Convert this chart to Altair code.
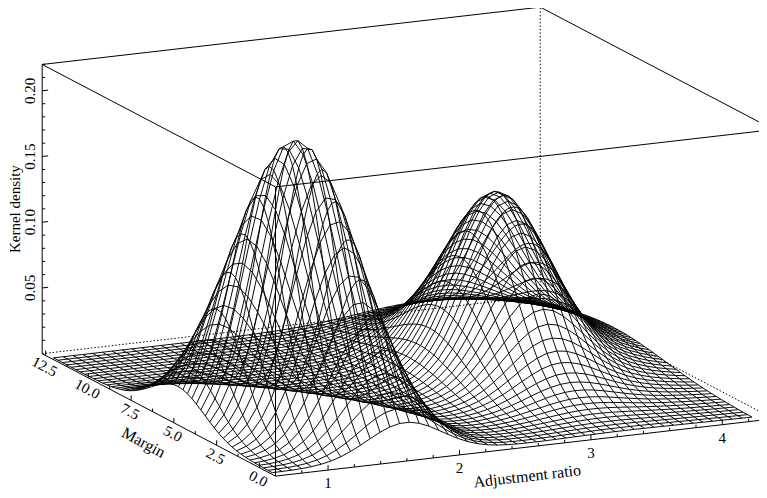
import math

import numpy as np
import pandas as pd
import altair as alt

# bumps of the kernel density surface
BUMP_ADJ = [1.29, 3.20, 3.50]
BUMP_MARGIN = [3.1, 6.0, 7.5]
BUMP_ADJ_SD = [0.33, 0.30, 0.55]
BUMP_MARGIN_SD = [1.8, 2.0, 3.0]
BUMP_RHO = [-0.5, 0.0, 0.0]
BUMP_HEIGHT = [0.22, 0.11, 0.035]

# evaluation grid of the estimate
ADJ_RANGE = [0.62, 4.27]
MARGIN_RANGE = [-0.6, 12.2]
N_GRID = 50

# the 3d box
BOX_ADJ = [0.60, 4.39]
BOX_MARGIN = [-0.94, 12.70]
BOX_DENSITY = [0.0, 0.22]

ADJ_TICKS = [1, 2, 3, 4]
MARGIN_TICKS = [0.0, 2.5, 5.0, 7.5, 10.0, 12.5]
DENSITY_TICKS = [0.05, 0.10, 0.15, 0.20]
ADJ_MINOR = 0.2
MARGIN_MINOR = 1.25
DENSITY_MINOR = 0.01

# view of the box
AZIMUTH = 25.1
ELEVATION = 14.35
BOX_SIZE = [550, 550, 301]

FONT = "Liberation Serif"
Y_PX = 486 / 482  # v units per screen pixel


def density(a, m):
    total = np.zeros_like(a, dtype=float)
    for mu_a, mu_m, sa, sm, rho, h in zip(BUMP_ADJ, BUMP_MARGIN, BUMP_ADJ_SD,
                                          BUMP_MARGIN_SD, BUMP_RHO, BUMP_HEIGHT):
        da = (a - mu_a) / sa
        dm = (m - mu_m) / sm
        q = (da ** 2 - 2 * rho * da * dm + dm ** 2) / (1 - rho ** 2)
        total += h * np.exp(-q / 2)
    return total


def project(a, m, z):
    th = math.radians(AZIMUTH)
    ph = math.radians(ELEVATION)
    x3 = (np.asarray(a, float) - BOX_ADJ[0]) / (BOX_ADJ[1] - BOX_ADJ[0]) * BOX_SIZE[0]
    y3 = (np.asarray(m, float) - BOX_MARGIN[0]) / (BOX_MARGIN[1] - BOX_MARGIN[0]) * BOX_SIZE[1]
    z3 = (np.asarray(z, float) - BOX_DENSITY[0]) / (BOX_DENSITY[1] - BOX_DENSITY[0]) * BOX_SIZE[2]
    u = x3 * math.cos(th) - y3 * math.sin(th)
    v = (x3 * math.sin(th) + y3 * math.cos(th)) * math.sin(ph) + z3 * math.cos(ph)
    return u, v


# --- surface wires ---
adj_grid = np.linspace(ADJ_RANGE[0], ADJ_RANGE[1], N_GRID)
mar_grid = np.linspace(MARGIN_RANGE[0], MARGIN_RANGE[1], N_GRID)
A, M = np.meshgrid(adj_grid, mar_grid, indexing="ij")
Z = density(A, M)
U, V = project(A, M, Z)

rows = []
for i in range(N_GRID):
    for j in range(N_GRID):
        rows.append({"line": f"a{i:02d}", "k": j, "u": U[i, j], "v": V[i, j]})
        rows.append({"line": f"m{j:02d}", "k": i, "u": U[i, j], "v": V[i, j]})
df_wire = pd.DataFrame(rows)


# --- box ---
def corner(ia, im, iz):
    return (BOX_ADJ[ia], BOX_MARGIN[im], BOX_DENSITY[iz])


edges = []
for ia in (0, 1):
    for im in (0, 1):
        edges.append((corner(ia, im, 0), corner(ia, im, 1)))
for iz in (0, 1):
    for ia in (0, 1):
        edges.append((corner(ia, 0, iz), corner(ia, 1, iz)))
    for im in (0, 1):
        edges.append((corner(0, im, iz), corner(1, im, iz)))

hidden = corner(1, 1, 0)
seg_solid, seg_dotted = [], []
for n, (p, q) in enumerate(edges):
    target = seg_dotted if hidden in (p, q) else seg_solid
    for k, pt in enumerate((p, q)):
        u, v = project(*pt)
        target.append({"line": f"e{n:02d}", "k": k, "u": float(u), "v": float(v)})


# --- ticks ---
def add_tick(name, p, q):
    for k, pt in enumerate((p, q)):
        u, v = project(*pt)
        seg_solid.append({"line": name, "k": k, "u": float(u), "v": float(v)})


up_major, up_minor = 5 / 1327, 3 / 1327
right_major, right_minor = 6 / 132.7, 3 / 132.7

for i in range(int(BOX_ADJ[1] / ADJ_MINOR) + 1):
    a = round(i * ADJ_MINOR, 6)
    if BOX_ADJ[0] <= a <= BOX_ADJ[1]:
        h = up_major if i % 5 == 0 else up_minor
        add_tick(f"ta{i}", (a, BOX_MARGIN[0], 0), (a, BOX_MARGIN[0], h))

for i in range(int(BOX_MARGIN[1] / MARGIN_MINOR) + 1):
    m = i * MARGIN_MINOR
    h = up_major if i % 2 == 0 else up_minor
    add_tick(f"tm{i}", (BOX_ADJ[0], m, 0), (BOX_ADJ[0], m, h))

for i in range(1, int(round(BOX_DENSITY[1] / DENSITY_MINOR)) + 1):
    z = i * DENSITY_MINOR
    d = right_major if i % 5 == 0 else right_minor
    add_tick(f"tz{i}", (BOX_ADJ[0], BOX_MARGIN[1], z), (BOX_ADJ[0] + d, BOX_MARGIN[1], z))

df_solid = pd.DataFrame(seg_solid)
df_dotted = pd.DataFrame(seg_dotted)


# --- labels (offsets in screen pixels, right / down) ---
def label_frame(points, texts, dx, dy):
    out = []
    for pt, t in zip(points, texts):
        u, v = project(*pt)
        out.append({"u": float(u) + dx, "v": float(v) - dy * Y_PX, "text": t})
    return pd.DataFrame(out)


df_adj_lab = label_frame([(a, BOX_MARGIN[0], 0) for a in ADJ_TICKS],
                         [f"{a:d}" for a in ADJ_TICKS], 0, 13)
df_mar_lab = label_frame([(BOX_ADJ[0], m, 0) for m in MARGIN_TICKS],
                         [f"{m:.1f}" for m in MARGIN_TICKS], -1, 11)
df_den_lab = label_frame([(BOX_ADJ[0], BOX_MARGIN[1], z) for z in DENSITY_TICKS],
                         [f"{z:.2f}" for z in DENSITY_TICKS], -12, 0)
df_adj_title = label_frame([(2.5, BOX_MARGIN[0], 0)], ["Adjustment ratio"], 2, 29)
df_mar_title = label_frame([(BOX_ADJ[0], 6.25, 0)], ["Margin"], -9, 31)
df_den_title = label_frame([(BOX_ADJ[0], BOX_MARGIN[1], 0.11)], ["Kernel density"], -27, 0)

# --- chart ---
W, H = 751, 482
x_enc = alt.X("u:Q", axis=None, scale=alt.Scale(domain=[-267.5, 483.5], nice=False, zero=False))
y_enc = alt.Y("v:Q", axis=None, scale=alt.Scale(domain=[-14, 472], nice=False, zero=False))

wire = alt.Chart(df_wire).mark_line(stroke="black", strokeWidth=0.95).encode(
    x=x_enc, y=y_enc, detail="line:N", order="k:Q"
)
box = alt.Chart(df_solid).mark_line(stroke="black", strokeWidth=1).encode(
    x=x_enc, y=y_enc, detail="line:N", order="k:Q"
)
box_hidden = alt.Chart(df_dotted).mark_line(stroke="black", strokeWidth=1, strokeDash=[1.5, 2]).encode(
    x=x_enc, y=y_enc, detail="line:N", order="k:Q"
)


def text_layer(df, size, angle):
    return alt.Chart(df).mark_text(
        font=FONT, fontSize=size, angle=angle,
        align="center", baseline="middle", color="black"
    ).encode(x=x_enc, y=y_enc, text="text:N")


margin_angle = 27.9
adj_angle = 353.4

chart = alt.layer(
    box_hidden,
    box,
    wire,
    text_layer(df_adj_lab, 15, 0),
    text_layer(df_mar_lab, 15, margin_angle),
    text_layer(df_den_lab, 15, 270),
    text_layer(df_adj_title, 16, adj_angle),
    text_layer(df_mar_title, 16, margin_angle),
    text_layer(df_den_title, 15, 270),
).properties(
    width=W,
    height=H,
    padding=0,
    autosize=alt.AutoSizeParams(type="none"),
    background="white",
).configure_view(strokeWidth=0)

chart.save("out.html", embed_options={"renderer": "svg", "actions": False})
